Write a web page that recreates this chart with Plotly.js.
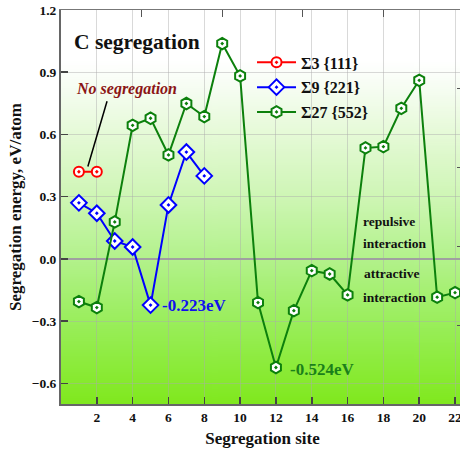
<!DOCTYPE html>
<html><head><meta charset="utf-8">
<script src="https://cdn.plot.ly/plotly-3.0.1.min.js"></script>
<style>html,body{margin:0;padding:0;overflow:hidden;background:#fff;width:460px;height:457px}</style>
</head><body><div id="chart" style="width:466px;height:457px"></div>
<script>
// ---- data ----
const sites3 = [1, 2];
const energy3 = [0.42, 0.42];
const sites9 = [1, 2, 3, 4, 5, 6, 7, 8];
const energy9 = [0.27, 0.22, 0.086, 0.057, -0.223, 0.26, 0.515, 0.40];
const sites27 = [1, 2, 3, 4, 5, 6, 7, 8, 9, 10, 11, 12, 13, 14, 15, 16, 17, 18, 19, 20, 21, 22];
const energy27 = [-0.206, -0.235, 0.178, 0.644, 0.678, 0.501, 0.749, 0.686, 1.038, 0.882, -0.211, -0.524,
                  -0.250, -0.057, -0.073, -0.174, 0.535, 0.541, 0.726, 0.861, -0.185, -0.163];
const seriesNames = ['Σ3 {111}', 'Σ9 {221}', 'Σ27 {552}'];
const xTicks = [2, 4, 6, 8, 10, 12, 14, 16, 18, 20, 22];
const yTicks = [-0.6, -0.3, 0.0, 0.3, 0.6, 0.9, 1.2];

// ---- background gradient image ----
function gradientURL() {
  const c = document.createElement('canvas');
  c.width = 4; c.height = 400;
  const g = c.getContext('2d');
  const gr = g.createLinearGradient(0, 0, 0, 400);
  gr.addColorStop(0.00, '#ffffff');
  gr.addColorStop(0.13, '#ffffff');
  gr.addColorStop(0.20, '#f6fdf2');
  gr.addColorStop(0.31, '#e6fad8');
  gr.addColorStop(0.47, '#cff6b6');
  gr.addColorStop(0.63, '#b3f28c');
  gr.addColorStop(0.79, '#9aee5c');
  gr.addColorStop(0.95, '#86ea2c');
  gr.addColorStop(1.00, '#80e81e');
  g.fillStyle = gr; g.fillRect(0, 0, 4, 400);
  return c.toDataURL();
}

const serif = 'Liberation Serif, Times New Roman, serif';
function trace(x, y, name, color, symbol, size) {
  return {
    x: x, y: y, name: name, legendgroup: name, type: 'scatter', mode: 'lines+markers',
    line: {color: color, width: 2},
    marker: {symbol: symbol, size: size, color: '#ffffff', line: {color: color, width: 2}},
    hoverinfo: 'x+y'
  };
}

const data = [
  trace(sites3, energy3, seriesNames[0], '#ff0000', 'circle-dot', 10),
  trace(sites9, energy9, seriesNames[1], '#0000ff', 'diamond-dot', 12),
  trace(sites27, energy27, seriesNames[2], '#0c800c', 'hexagon-dot', 11.5),
  {x: [], y: [], xaxis: 'x2', yaxis: 'y2', type: 'scatter', showlegend: false, hoverinfo: 'skip'}
];

const bold = (s, c) => ({family: serif, size: s, color: c || '#111', weight: 'bold'});

const layout = {
  width: 466, height: 457,
  margin: {l: 61, r: 2, t: 10, b: 53},
  paper_bgcolor: '#ffffff',
  plot_bgcolor: '#ffffff',
  showlegend: true,
  legend: {x: 0.474, y: 0.91, xanchor: 'left', yanchor: 'top', bgcolor: 'rgba(0,0,0,0)',
           font: bold(16), tracegroupgap: 1, itemwidth: 39},
  xaxis: {
    range: [0, 22.5], tickvals: xTicks, ticks: 'inside', ticklen: 7, tickwidth: 1.5, tickcolor: '#444',
    showline: true, linecolor: '#666', linewidth: 2, showgrid: true, gridcolor: 'rgba(170,170,170,0.45)',
    gridwidth: 1, zeroline: false, tickfont: bold(13.5),
    title: {text: 'Segregation site', font: bold(17), standoff: 8}
  },
  yaxis: {
    range: [-0.7, 1.2], tickvals: yTicks, tickformat: '.1f', ticks: 'inside', ticklen: 7, tickwidth: 1.5,
    tickcolor: '#444', showline: true, linecolor: '#666', linewidth: 2, showgrid: true,
    gridcolor: 'rgba(170,170,170,0.45)', gridwidth: 1, zeroline: true, zerolinecolor: '#a0a0a0',
    zerolinewidth: 2, tickfont: bold(13.5),
    title: {text: 'Segregation energy, eV/atom', font: bold(17), standoff: 6}
  },
  xaxis2: {overlaying: 'x', side: 'top', anchor: 'y', range: [0, 1], tickvals: [0.2, 0.4, 0.6, 0.8],
           ticks: 'inside', ticklen: 7, tickcolor: '#555', showticklabels: false, showline: true,
           linecolor: '#777', linewidth: 1, showgrid: false, zeroline: false},
  yaxis2: {overlaying: 'y', side: 'right', anchor: 'x', range: [0, 1], tickvals: [0.2, 0.4, 0.6, 0.8],
           ticks: 'inside', ticklen: 7, tickcolor: '#555', showticklabels: false, showline: true,
           linecolor: '#777', linewidth: 1, showgrid: false, zeroline: false},
  images: [{source: gradientURL(), xref: 'paper', yref: 'paper', x: 0, y: 1, sizex: 1, sizey: 1,
            sizing: 'stretch', layer: 'below'}],
  shapes: [{type: 'line', xref: 'x', yref: 'y', x0: 2.57, y0: 0.76, x1: 1.5, y1: 0.445,
            line: {color: '#000', width: 1.5}}],
  annotations: [
    {text: 'C segregation', xref: 'paper', yref: 'paper', x: 0.028, y: 0.92, xanchor: 'left',
     yanchor: 'middle', showarrow: false, font: bold(21.5)},
    {text: '<i>No segregation</i>', xref: 'x', yref: 'y', x: 0.72, y: 0.82, xanchor: 'left',
     yanchor: 'middle', showarrow: false, font: bold(16, '#8b1515')},
    {text: '-0.223eV', xref: 'x', yref: 'y', x: 5.5, y: -0.227, xanchor: 'left', yanchor: 'middle',
     showarrow: false, font: bold(17, '#1010ee')},
    {text: '-0.524eV', xref: 'x', yref: 'y', x: 12.65, y: -0.532, xanchor: 'left', yanchor: 'middle',
     showarrow: false, font: bold(17, '#1a801a')},
    {text: 'repulsive', xref: 'x', yref: 'y', x: 16.75, y: 0.18, xanchor: 'left', yanchor: 'middle',
     showarrow: false, font: bold(13.5)},
    {text: 'interaction', xref: 'x', yref: 'y', x: 16.75, y: 0.075, xanchor: 'left', yanchor: 'middle',
     showarrow: false, font: bold(13.5)},
    {text: 'attractive', xref: 'x', yref: 'y', x: 16.8, y: -0.07, xanchor: 'left', yanchor: 'middle',
     showarrow: false, font: bold(13.5)},
    {text: 'interaction', xref: 'x', yref: 'y', x: 16.75, y: -0.185, xanchor: 'left', yanchor: 'middle',
     showarrow: false, font: bold(13.5)}
  ]
};

Plotly.newPlot('chart', data, layout, {displayModeBar: false, staticPlot: true});
</script>
</body></html>
